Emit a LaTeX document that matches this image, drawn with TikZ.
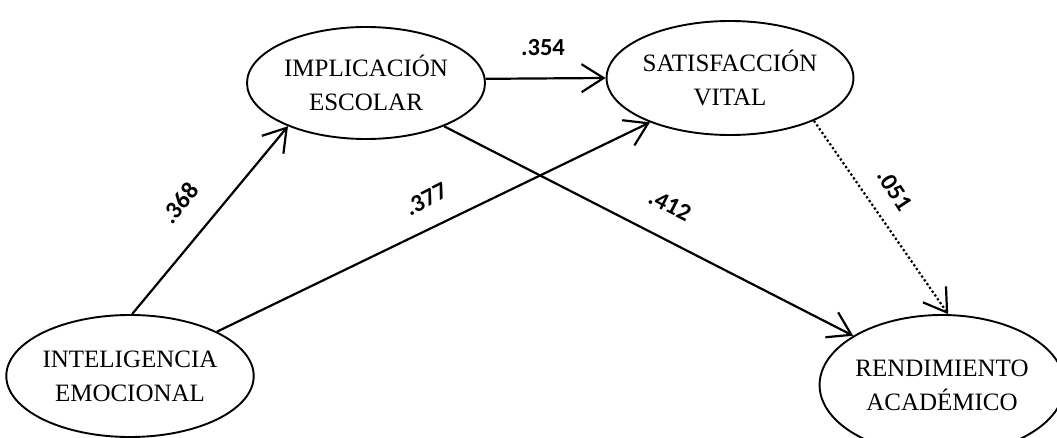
\documentclass[tikz,border=0pt]{standalone}
\usepackage{fontspec}
\setmainfont{Liberation Serif}
\newfontfamily\labelfont{Carlito}
\usetikzlibrary{arrows.meta,shapes.geometric}
\begin{document}
\begin{tikzpicture}[x=1pt,y=-1pt,
  construct/.style={draw,ellipse,line width=1.9pt,inner sep=0pt,align=center,
    font=\fontsize{25}{34}\selectfont},
  path/.style={line width=2.2pt,-{Straight Barb[length=22pt,width=28pt,line width=2.2pt]}},
  weak/.style={path,dash pattern=on 2.2pt off 2.4pt},
  coef/.style={font=\labelfont\bfseries\fontsize{24.5}{28}\selectfont,inner sep=0pt}]
\useasboundingbox (0,0) rectangle (1057,438);

% latent constructs
\node[construct,minimum width=238pt,minimum height=112pt] (im) at (366,83) {IMPLICACIÓN\\ESCOLAR};
\node[construct,minimum width=226pt,minimum height=114pt] (sv) at (730,78) {SATISFACCIÓN\\VITAL};
\node[construct,minimum width=240pt,minimum height=122pt] (ie) at (130,376) {INTELIGENCIA\\EMOCIONAL};
\node[construct,minimum width=232pt,minimum height=140pt] (ra) at (942,385) {RENDIMIENTO\\ACADÉMICO};

% structural paths
\draw[path] (ie.88) -- (im.209);
\draw[path] (ie.27.4) -- (sv.209.5);
\draw[path] (im.2) -- (sv.180.5);
\draw[path] (im.331) -- (ra.151);
\draw[weak] (sv.333) -- (ra.85);

% path coefficients
\node[coef,rotate=51] (c368) at (180,203) {.368};
\node[coef,rotate=27] (c377) at (426,199) {.377};
\node[coef] (c354) at (543,48) {.354};
\node[coef,rotate=-27] (c412) at (670,205) {.412};
\node[coef,rotate=-57] (c051) at (895,190) {.051};
\end{tikzpicture}
\end{document}
